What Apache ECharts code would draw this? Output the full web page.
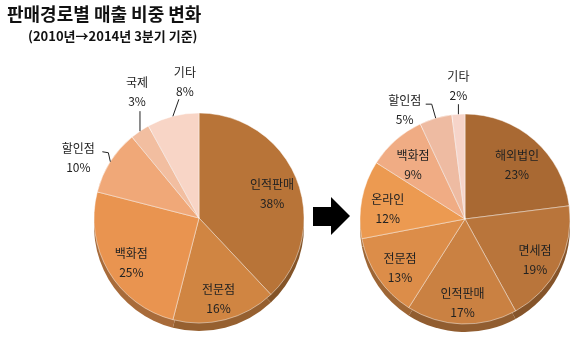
<!DOCTYPE html>
<html><head><meta charset="utf-8">
<script src="https://cdn.jsdelivr.net/npm/echarts@6/dist/echarts.min.js"></script>
<style>html,body{margin:0;padding:0;background:#fff}#c{width:580px;height:339px}</style>
</head><body><div id="c"></div>
<script>
// ---- data ----
const leftNames = ['인적판매','전문점','백화점','할인점','국제','기타'];
const leftValues = [38,16,25,10,3,8];
const leftColors = ['#B87438','#D08542','#E99450','#F0A878','#F2BEA0','#F8D5C6'];

const rightNames = ['해외법인','면세점','인적판매','전문점','온라인','백화점','할인점','기타'];
const rightValues = [23,19,17,13,12,9,5,2];
const rightColors = ['#A96933','#B9753B','#CA8142','#DC8D49','#EC9A51','#F0AC84','#EEBBA2','#F6D4C9'];

// outside-label leader styling (offsets relative to slice edge): [lineEndDx, lineEndDy, elbowDx, elbowDy, labelDx, labelDy]
const leftOutside = {
  '할인점':[-8,-10,-2,-9,-32,-4],
  '국제':[0,-20,0,-20,-3,-39],
  '기타':[6,-17,6,-17,12,-34]
};
const rightOutside = {
  '할인점':[-10,-14,-4,-14,-31,-8],
  '기타':[0,-10,0,-10,0,-28]
};

const titleText = '판매경로별 매출 비중 변화';
const subText = '(2010년→2014년 3분기 기준)';

// ---- helpers ----
const FONT = '"Noto Sans CJK KR", "Noto Sans", sans-serif';
function darken(hex, f){
  const n = parseInt(hex.slice(1),16);
  const r = Math.round(((n>>16)&255)*f), g = Math.round(((n>>8)&255)*f), b = Math.round((n&255)*f);
  return 'rgb('+r+','+g+','+b+')';
}
function pieSeries(names, values, colors, outside, center, R){
  const depth = 8;
  const base = {
    type:'pie', startAngle:90, clockwise:true, animation:false, silent:true,
    avoidLabelOverlap:false
  };
  const side = Object.assign({}, base, {
    center:[center[0], center[1]+depth], radius:R, z:1,
    label:{show:false}, labelLine:{show:false},
    data: names.map((n,i)=>({name:n, value:values[i], itemStyle:{color:darken(colors[i],0.72)}}))
  });
  const top = Object.assign({}, base, {
    center:center, radius:R, z:2,
    label:{show:false}, labelLine:{show:false},
    itemStyle:{borderColor:'rgba(255,255,255,0.45)', borderWidth:1},
    data: names.map((n,i)=>({name:n, value:values[i], itemStyle:{color:colors[i]}}))
  });
  const labels = Object.assign({}, base, {
    center:center, radius:[R*0.44, R], z:3,
    itemStyle:{color:'rgba(0,0,0,0)'},
    label:{show:true, position:'inside', formatter:'{b}\n{c}%', color:'#222',
      fontFamily:FONT, fontSize:12, lineHeight:19},
    labelLine:{show:false},
    labelLayout: function(p){
      const n = names[p.dataIndex];
      const o = outside[n];
      if(!o) return {dy:5};
      if(!p.labelLinePoints) return {};
      const e = p.labelLinePoints[0];
      return {
        x: e[0]+o[4], y: e[1]+o[5], align:'center', verticalAlign:'middle',
        labelLinePoints:[[e[0],e[1]],[e[0]+o[2],e[1]+o[3]],[e[0]+o[0],e[1]+o[1]]]
      };
    },
    data: names.map((n,i)=>{
      const d = {name:n, value:values[i]};
      if(outside[n]){
        d.label = {position:'outside', color:'#222'};
        d.labelLine = {show:true, length:8, length2:4, smooth:false, lineStyle:{color:'#222', width:1}};
      }
      return d;
    })
  });
  return [side, top, labels];
}

const chart = echarts.init(document.getElementById('c'), null, {renderer:'canvas'});
chart.setOption({
  backgroundColor:'#fff',
  title:[
    {text:titleText, left:2, top:0, textStyle:{fontFamily:FONT, fontSize:18, fontWeight:'bold', color:'#111'}},
    {text:subText, left:23, top:25, textStyle:{fontFamily:FONT, fontSize:13, fontWeight:'bold', color:'#111'}}
  ],
  graphic:[{
    type:'polygon', z:10,
    shape:{points:[[313,207],[331,207],[331,197],[350,216],[331,235],[331,226],[313,226]]},
    style:{fill:'#000'}
  }],
  series: [].concat(
    pieSeries(leftNames, leftValues, leftColors, leftOutside, [199,218], 105),
    pieSeries(rightNames, rightValues, rightColors, rightOutside, [465,219], 105)
  )
});
</script></body></html>
